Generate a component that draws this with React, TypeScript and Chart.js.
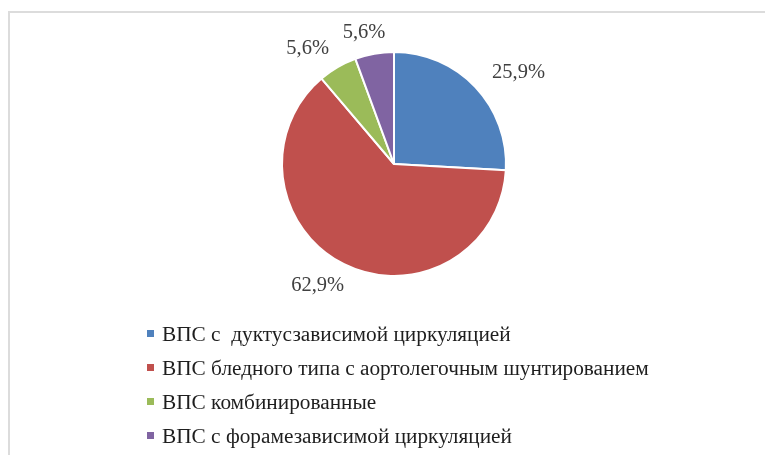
import React, { useEffect, useRef } from "react";
import { Chart, registerables } from "chart.js";

Chart.register(...registerables);

const categories = [
  "ВПС с  дуктусзависимой циркуляцией",
  "ВПС бледного типа с аортолегочным шунтированием",
  "ВПС комбинированные",
  "ВПС с форамезависимой циркуляцией",
];
const shares = [25.9, 62.9, 5.6, 5.6];
const valueLabels = ["25,9%", "62,9%", "5,6%", "5,6%"];
const colors = ["#4F81BD", "#C0504D", "#9BBB59", "#8064A2"];

const FONT = '"Liberation Serif", "Times New Roman", serif';

const framePlugin = {
  id: "frame",
  beforeDraw(chart: any) {
    const ctx = chart.ctx;
    ctx.save();
    ctx.fillStyle = "#ffffff";
    ctx.fillRect(0, 0, chart.width, chart.height);
    ctx.fillStyle = "#dcdcdc";
    ctx.fillRect(8, 11, 2, chart.height);
    ctx.fillRect(8, 11, chart.width, 2);
    ctx.restore();
  },
};

const labelPlugin = {
  id: "sliceLabels",
  afterDraw(chart: any) {
    const ctx = chart.ctx;
    const meta = chart.getDatasetMeta(0);
    ctx.save();
    ctx.font = `20.5px ${FONT}`;
    ctx.fillStyle = "#404040";
    ctx.textAlign = "center";
    ctx.textBaseline = "middle";
    meta.data.forEach((arc: any, i: number) => {
      const p = arc.getProps(["x", "y", "startAngle", "endAngle", "outerRadius"], true);
      const mid = (p.startAngle + p.endAngle) / 2;
      const rx = p.outerRadius * 1.53;
      const ry = p.outerRadius * 1.2;
      const x = p.x + Math.cos(mid) * rx;
      const y = p.y + Math.sin(mid) * ry;
      ctx.fillText(valueLabels[i], x, y + 1);
    });

    // legend
    const ds = chart.data.datasets[0];
    const startY = 333.5;
    const step = 34;
    ctx.textAlign = "left";
    ctx.textBaseline = "alphabetic";
    ctx.font = `21.3px ${FONT}`;
    chart.data.labels.forEach((lab: string, i: number) => {
      const cy = startY + i * step;
      ctx.fillStyle = ds.backgroundColor[i];
      ctx.fillRect(147, cy - 3.5, 7, 7);
      ctx.fillStyle = "#1e1e1e";
      ctx.fillText(lab, 162, cy + 7);
    });
    ctx.restore();
  },
};

export default function App() {
  const ref = useRef<HTMLCanvasElement | null>(null);
  useEffect(() => {
    if (!ref.current) return;
    const chart = new Chart(ref.current, {
      type: "pie",
      data: {
        labels: categories,
        datasets: [
          {
            data: shares,
            backgroundColor: colors,
            borderColor: "#ffffff",
            borderWidth: 2,
          },
        ],
      },
      options: {
        animation: false,
        responsive: true,
        maintainAspectRatio: false,
        layout: { padding: { top: 51, bottom: 178, left: 281, right: 258 } },
        plugins: {
          legend: { display: false },
          tooltip: { enabled: false },
        },
      },
      plugins: [framePlugin, labelPlugin],
    });
    return () => chart.destroy();
  }, []);
  return (
    <div style={{ position: "absolute", left: 0, top: 0, width: 765, height: 455 }}>
      <canvas ref={ref} />
    </div>
  );
}
